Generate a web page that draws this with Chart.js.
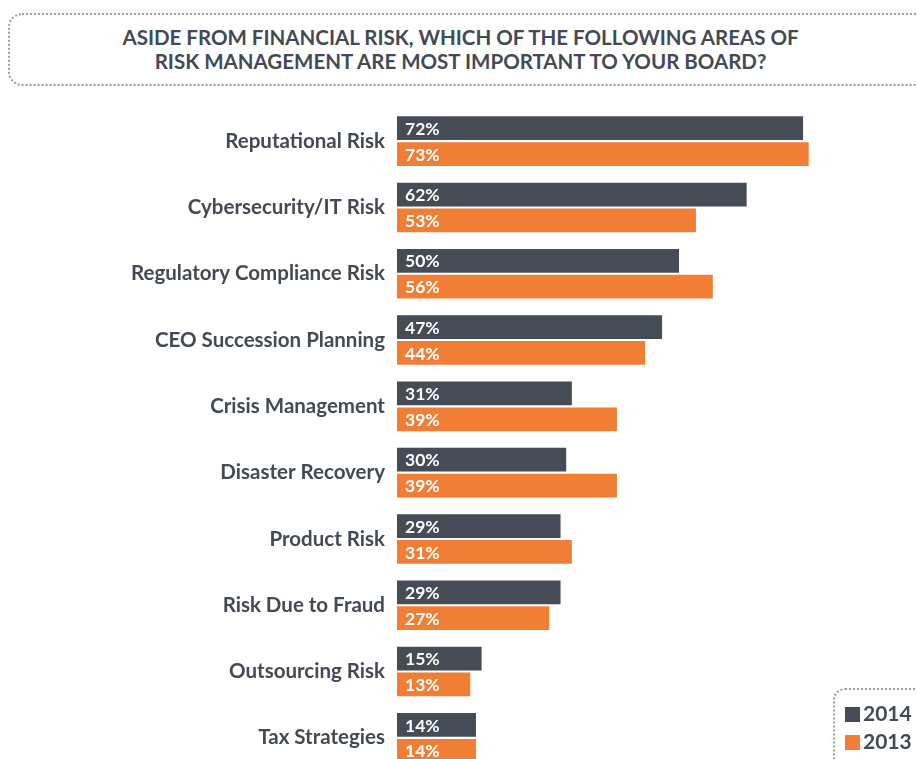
<!DOCTYPE html>
<html lang="en">
<head>
    <meta charset="UTF-8">
    <title>Risk Management Priorities</title>
    <script src="https://cdn.jsdelivr.net/npm/chart.js"></script>
    <style>
        html, body { margin: 0; padding: 0; background: #fff; overflow: hidden; }
        body { width: 917px; height: 759px; position: relative; font-family: Lato, sans-serif; }
        .title-box {
            position: absolute; left: 8px; top: 13px; width: 930px; height: 73px;
            border: 2px dotted #9a9ea4; border-radius: 14px; box-sizing: border-box;
        }
        .title-box h1 {
            position: absolute; left: -8px; width: 917px; top: 10px; margin: 0;
            font: bold 20.5px Lato, sans-serif; color: #434a54; text-align: center;
            line-height: 24px;
        }
        #chart { position: absolute; left: 0; top: 0; }
        .legend {
            position: absolute; left: 833px; top: 688px; width: 110px; height: 90px;
            border: 2px dotted #9a9ea4; border-radius: 12px; box-sizing: border-box;
        }
        .legend div { position: absolute; left: 10px; font: bold 21px Lato, sans-serif; color: #434a54; }
        .legend span { display: inline-block; width: 15px; height: 15px; margin-right: 3px; vertical-align: -1px; }
    </style>
</head>
<body>
<div class="title-box">
    <h1>ASIDE FROM FINANCIAL RISK, WHICH OF THE FOLLOWING AREAS OF<br>RISK MANAGEMENT ARE MOST IMPORTANT TO YOUR BOARD?</h1>
</div>
<canvas id="chart" width="917" height="790"></canvas>
<div class="legend" id="legend"></div>
<script>
    const categories = [
        'Reputational Risk', 'Cybersecurity/IT Risk', 'Regulatory Compliance Risk',
        'CEO Succession Planning', 'Crisis Management', 'Disaster Recovery',
        'Product Risk', 'Risk Due to Fraud', 'Outsourcing Risk', 'Tax Strategies'
    ];
    const values2014 = [72, 62, 50, 47, 31, 30, 29, 29, 15, 14];
    const values2013 = [73, 53, 56, 44, 39, 39, 31, 27, 13, 14];
    const seriesNames = ['2014', '2013'];
    const colors = ['#454c55', '#f07f35'];

    // white percentage labels drawn inside the start of each bar
    const insideLabels = {
        id: 'insideLabels',
        afterDatasetsDraw(chart) {
            const ctx = chart.ctx;
            ctx.save();
            ctx.font = 'bold 17.5px Lato, sans-serif';
            ctx.fillStyle = '#ffffff';
            ctx.textBaseline = 'middle';
            chart.data.datasets.forEach((ds, i) => {
                chart.getDatasetMeta(i).data.forEach((bar, j) => {
                    ctx.fillText(ds.data[j] + '%', bar.base + 8, bar.y + 1);
                });
            });
            ctx.restore();
        }
    };

    new Chart(document.getElementById('chart').getContext('2d'), {
        type: 'bar',
        data: {
            labels: categories,
            datasets: [
                { label: seriesNames[0], data: values2014, backgroundColor: colors[0] },
                { label: seriesNames[1], data: values2013, backgroundColor: colors[1] }
            ]
        },
        options: {
            indexAxis: 'y',
            responsive: false,
            animation: false,
            datasets: { bar: { barPercentage: 0.92, categoryPercentage: 0.78 } },
            layout: { padding: { top: 108, bottom: 19, left: 0, right: 0 } },
            scales: {
                x: { display: false, min: 0, max: 92.2 },
                y: {
                    grid: { display: false },
                    border: { display: false },
                    afterFit: axis => { axis.width = 397; },
                    ticks: { color: '#434a54', padding: 4, font: { family: 'Lato', size: 20.5, weight: 'bold' } }
                }
            },
            plugins: { legend: { display: false }, tooltip: { enabled: false } }
        },
        plugins: [insideLabels]
    });

    const legend = document.getElementById('legend');
    seriesNames.forEach((name, i) => {
        const row = document.createElement('div');
        row.style.top = (10 + i * 28) + 'px';
        row.innerHTML = '<span style="background:' + colors[i] + '"></span>' + name;
        legend.appendChild(row);
    });
</script>
</body>
</html>
